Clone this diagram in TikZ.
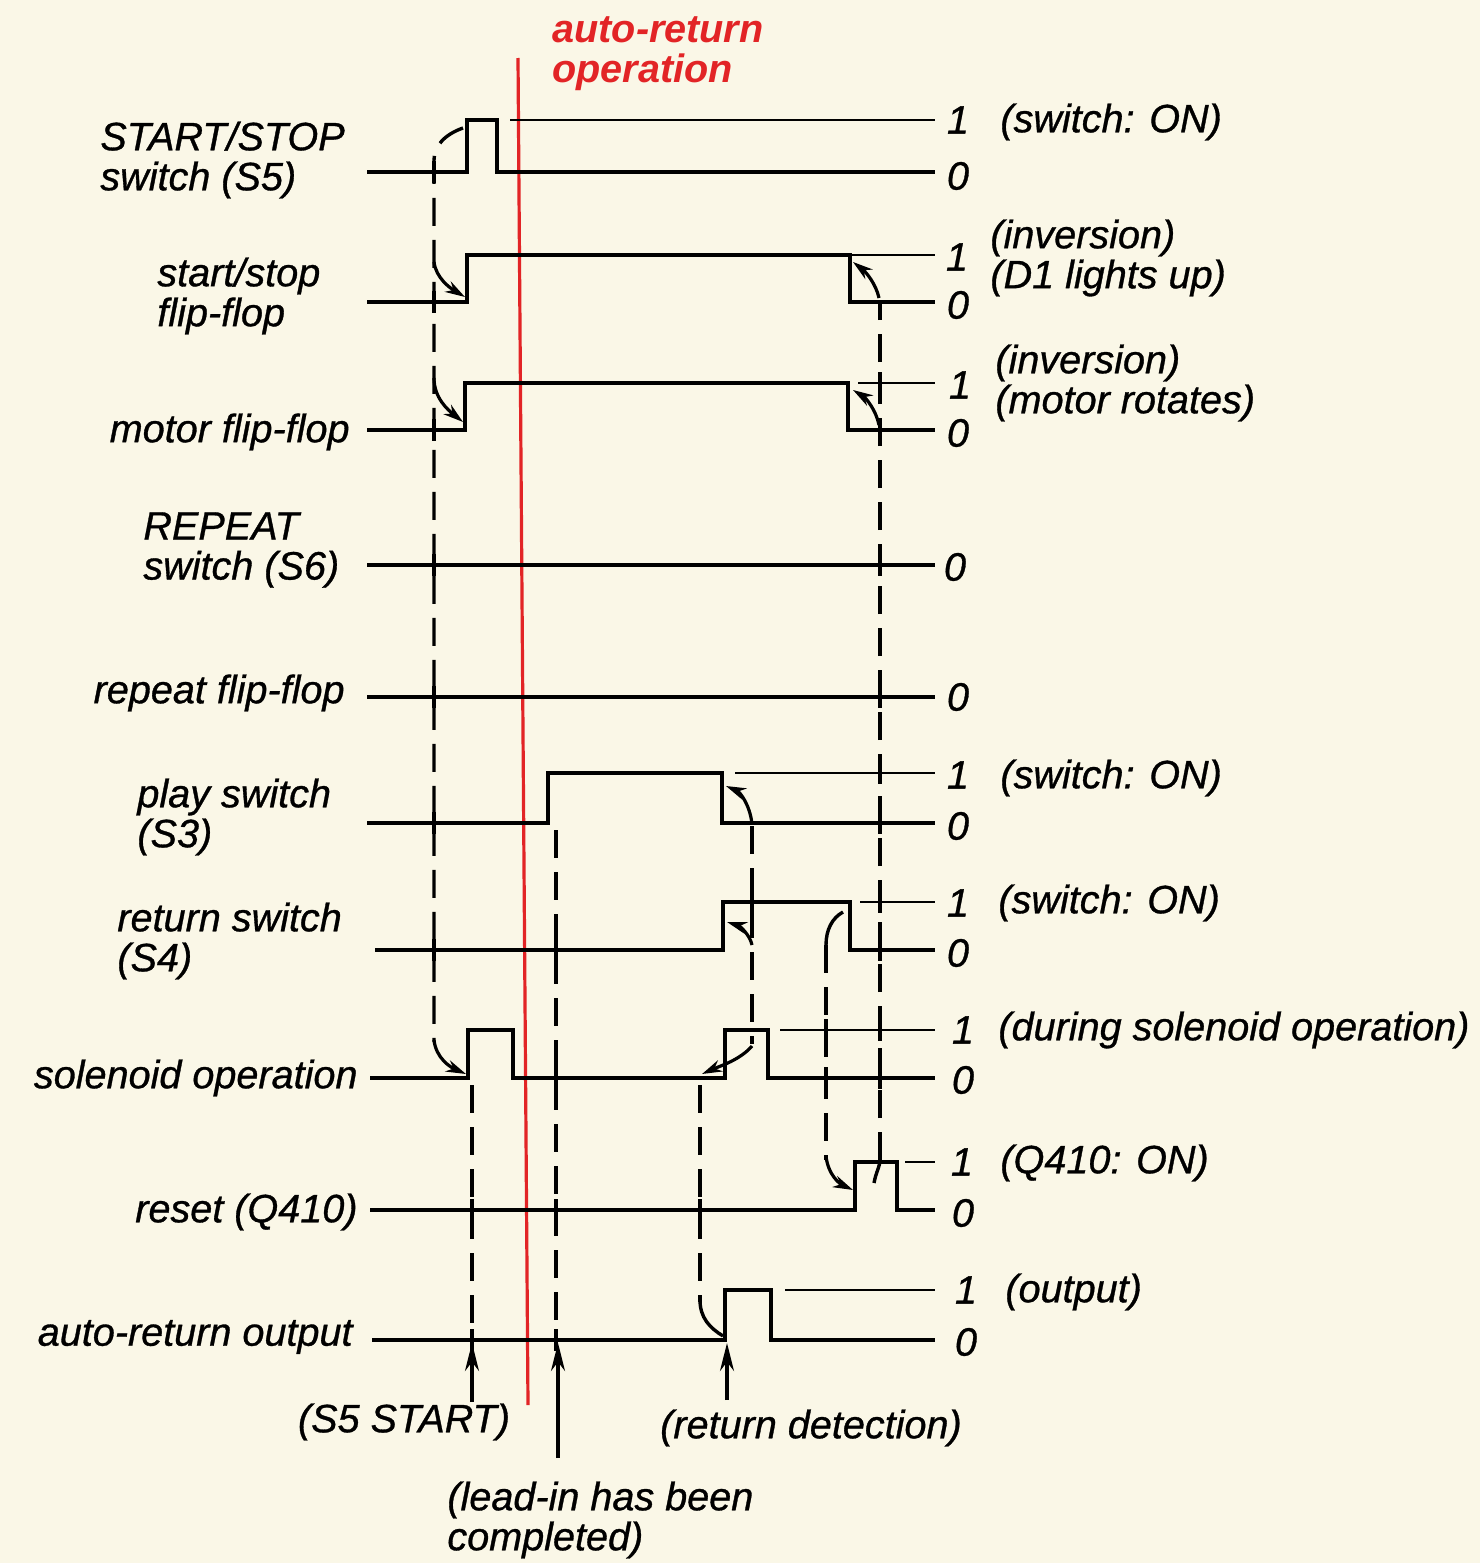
\documentclass[tikz,border=0pt]{standalone}
\usepackage{fontspec}
\setmainfont{Liberation Sans}[ItalicFeatures={FakeBold=0.8}, BoldItalicFeatures={FakeBold=0}]
\usetikzlibrary{arrows.meta}
\definecolor{paper}{RGB}{250,247,231}
\definecolor{opred}{RGB}{226,36,38}
\tikzset{
  sig/.style={line width=2.4pt},
  lvl/.style={line width=1.4pt},
  link/.style={line width=1.7pt, dash pattern=on 14pt off 7pt},
  hook/.style={line width=1.6pt, -{Stealth[length=10pt,width=6pt]}},
  tick/.style={line width=1.7pt},
  ptr/.style={line width=1.6pt, -{Stealth[length=14pt,width=7pt]}},
  lab/.style={font=\itshape\fontsize{19.8}{20}\selectfont, inner sep=0pt, align=left},
}
\begin{document}
\begin{tikzpicture}[x=0.5pt, y=-0.5pt]
\fill[paper] (0,0) rectangle (1480,1563);
\useasboundingbox (0,0) rectangle (1480,1563);
% auto-return marker
\draw[opred, line width=1.6pt] (518,58) -- (528,1405);
\node[lab, text=opred, font=\bfseries\itshape\fontsize{19.8}{20}\selectfont, anchor=west] (autoret) at (552,54) {auto-return\\operation};
% traces
\draw[sig] (367,172) -| (467,120) -| (497,172) -- (935,172);
\draw[sig] (367,302) -| (467,255) -| (850,302) -- (935,302);
\draw[sig] (367,430) -| (465,383) -| (848,430) -- (935,430);
\draw[sig] (367,565) -- (935,565);
\draw[sig] (367,697) -- (935,697);
\draw[sig] (367,823) -| (548,773) -| (722,823) -- (935,823);
\draw[sig] (375,950) -| (723,902) -| (850,950) -- (935,950);
\draw[sig] (370,1078) -| (468,1030) -| (513,1078) -| (725,1030) -| (768,1078) -- (935,1078);
\draw[sig] (370,1210) -| (855,1162) -| (897,1210) -- (935,1210);
\draw[sig] (372,1340) -| (725,1290) -| (771,1340) -- (935,1340);
\draw[lvl] (510,120) -- (935,120) (850,255) -- (935,255) (858,383) -- (935,383)
  (735,773) -- (935,773) (860,902) -- (935,902) (780,1030) -- (935,1030)
  (905,1162) -- (935,1162) (785,1290) -- (935,1290);
% dashed links
\draw[link] (463,128) .. controls (446,134) and (434,145) .. (434,160) -- (434,1042);
\draw[hook] (434,262) .. controls (436,278) and (450,288) .. (465,297);
\draw[hook] (434,378) .. controls (434,398) and (448,410) .. (463,422);
\draw[hook] (434,1040) .. controls (436,1058) and (450,1067) .. (466,1074);
\draw[link] (472,1085) -- (472,1338);
\draw[link] (556,830) -- (556,1338);
\draw[link] (752,826) -- (752,1044);
\draw[hook] (752,824) .. controls (750,805) and (740,792) .. (726,786);
\draw[hook] (752,945) .. controls (750,935) and (740,926) .. (727,922);
\draw[hook] (752,1046) .. controls (740,1060) and (720,1066) .. (702,1074);
\draw[link] (700,1085) -- (700,1302);
\draw[tick] (700,1300) .. controls (700,1318) and (710,1328) .. (723,1336);
\draw[tick] (843,912) .. controls (832,918) and (826,930) .. (826,945);
\draw[link] (826,945) -- (826,1160);
\draw[hook] (826,1156) .. controls (828,1175) and (840,1184) .. (853,1190);
\draw[tick] (874,1183) .. controls (876,1172) and (880,1166) .. (880,1160);
\draw[link] (880,1160) -- (880,300);
\draw[hook] (879,298) .. controls (876,284) and (866,272) .. (853,262);
\draw[hook] (879,425) .. controls (876,410) and (866,398) .. (853,390);
% crossing marks
\foreach \y in {172,302,430,565,697,823,950} \draw[tick] (434,\y-11) -- (434,\y+11);
\foreach \y in {1210,1340} \draw[tick] (472,\y-11) -- (472,\y+11);
\foreach \y in {950,1078,1210,1340} \draw[tick] (556,\y-11) -- (556,\y+11);
\draw[tick] (752,891) -- (752,913);
\draw[tick] (700,1199) -- (700,1221);
\foreach \y in {1030,1078} \draw[tick] (826,\y-11) -- (826,\y+11);
\foreach \y in {383,430,565,697,773,823,902,950,1030,1078} \draw[tick] (880,\y-11) -- (880,\y+11);
% signal names
\node[lab, anchor=west] (s5lab) at (100,160) {START/STOP\\switch (S5)};
\node[lab, anchor=west] (sslab) at (157,296) {start/stop\\flip-flop};
\node[lab, anchor=east] (motlab) at (350,432) {motor flip-flop};
\node[lab, anchor=west] (s6lab) at (143,550) {REPEAT\\switch (S6)};
\node[lab, anchor=east] (rflab) at (345,693) {repeat flip-flop};
\node[lab, anchor=west] (s3lab) at (137,817) {play switch\\(S3)};
\node[lab, anchor=west] (s4lab) at (117,941) {return switch\\(S4)};
\node[lab, anchor=east] (sollab) at (358,1078) {solenoid operation};
\node[lab, anchor=east] (qlab) at (358,1212) {reset (Q410)};
\node[lab, anchor=east] (outlab) at (353,1337) {auto-return output};
% levels
\foreach \x/\y/\v [count=\i] in {958/120/1, 958/176/0, 957/257/1, 958/305/0, 960/385/1, 958/433/0,
  955/567/0, 958/697/0, 958/775/1, 958/826/0, 958/903/1, 958/953/0, 963/1030/1, 963/1080/0,
  962/1162/1, 963/1213/0, 966/1290/1, 966/1342/0}
  \node[lab] (lv\i) at (\x,\y) {\v};
% notes
\node[lab, anchor=west] (n1) at (1000,122) {(switch: ON)};
\node[lab, anchor=west] (n2) at (990,258) {(inversion)\\(D1 lights up)};
\node[lab, anchor=west] (n3) at (995,383) {(inversion)\\(motor rotates)};
\node[lab, anchor=west] (n4) at (1000,778) {(switch: ON)};
\node[lab, anchor=west] (n5) at (998,903) {(switch: ON)};
\node[lab, anchor=west] (n6) at (998,1030) {(during solenoid operation)};
\node[lab, anchor=west] (n7) at (1000,1163) {(Q410: ON)};
\node[lab, anchor=west] (n8) at (1005,1292) {(output)};
% events
\node[lab] (s5start) at (404,1422) {(S5 START)};
\node[lab] (retdet) at (811,1428) {(return detection)};
\node[lab, anchor=west] (leadin) at (447,1520) {(lead-in has been\\completed)};
\coordinate (pA) at (472,1402); \coordinate (qA) at (472,1343);
\coordinate (pB) at (558,1458); \coordinate (qB) at (558,1343);
\coordinate (pC) at (727,1400); \coordinate (qC) at (727,1343);
\draw[ptr] (pA) -- (qA);
\draw[ptr] (pB) -- (qB);
\draw[ptr] (pC) -- (qC);
\end{tikzpicture}
\end{document}
